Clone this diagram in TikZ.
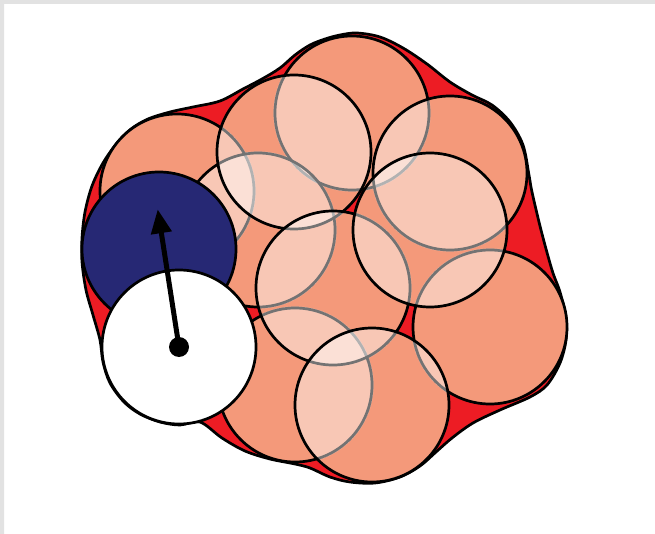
\documentclass[tikz,border=0pt]{standalone}
\usetikzlibrary{arrows.meta}
\definecolor{hullred}{RGB}{237,28,36}
\definecolor{salmon}{RGB}{244,153,122}
\definecolor{navy}{RGB}{38,40,116}
\definecolor{framegray}{RGB}{226,226,226}
\newcommand\litecirc[2]{%
  \begin{scope}
    \clip (#1) circle (77pt);
    \fill[lite] \foreach \p in {#2} {(\p) circle (78.6pt)};
  \end{scope}
  \draw[outl] (#1) circle (77pt);}
\begin{document}
\begin{tikzpicture}[x=1pt,y=-1pt,
  outl/.style={draw=black, line width=2.7pt},
  lite/.style={fill=white, fill opacity=0.45}]
\useasboundingbox (0,0) rectangle (655,534);
\fill[white] (0,0) rectangle (655,534);
\fill[framegray] (0,0) rectangle (655,4) (0,0) rectangle (4,534);

% particle centres
\coordinate (H) at (177,191);
\coordinate (A) at (352,113);
\coordinate (F) at (258,230);
\coordinate (J) at (295,385);
\coordinate (B) at (294,152);
\coordinate (C) at (450,173);
\coordinate (G) at (490,327);
\coordinate (E) at (333,288);
\coordinate (D) at (430,230);
\coordinate (I) at (372,405);
\coordinate (blue) at (159,249);
\coordinate (wht) at (179,347);
\coordinate (tip) at (157.7,209.3);

% envelope
\filldraw[fill=hullred, draw=black, line width=2.7pt]
  plot[smooth cycle, tension=0.55] coordinates {
  (340,35) (357,33) (380,37) (403,48) (427,64) (450,82) (472,95)
  (492,105) (510,122) (523,145) (529,175) (532,192) (541,230) (552,270)
  (560,292) (566,318) (566,340) (560,363) (547,385) (530,397) (500,410)
  (473,423) (452,438) (436,452) (420,466) (400,477) (375,483) (350,482)
  (330,477) (310,468) (295,464) (270,459) (245,451) (222,438) (200,422)
  (180,425) (160,422) (140,414) (124,402) (110,383) (103,362) (100,340)
  (93,315) (86,290) (82,262) (82,238) (85,212) (92,186) (103,163)
  (117,143) (131,129) (148,119) (170,112) (193,107) (220,101) (243,89)
  (262,79) (280,68) (295,55) (310,45) (325,39)};

% salmon base
\fill[salmon] \foreach \p in {H,A,F,J,B,C,G,E,D,I} {(\p) circle (77pt)};

% layered circles
\draw[outl] (H) circle (77pt);
\litecirc{A}{H}
\litecirc{F}{H,A}
\litecirc{J}{H,A,F}
\litecirc{B}{H,A,F,J}
\litecirc{C}{H,A,F,J,B}
\litecirc{G}{H,A,F,J,B,C}
\litecirc{E}{H,A,F,J,B,C,G}
\litecirc{D}{H,A,F,J,B,C,G,E}
\litecirc{I}{H,A,F,J,B,C,G,E,D}

% moving particle
\filldraw[fill=navy, outl] (blue) circle (77pt);
\filldraw[fill=white, outl] (wht) circle (77pt);
\draw[line width=5pt, -{Triangle[length=24pt,width=20pt]}] (wht) -- (tip);
\fill (wht) circle (10pt);
\end{tikzpicture}
\end{document}
